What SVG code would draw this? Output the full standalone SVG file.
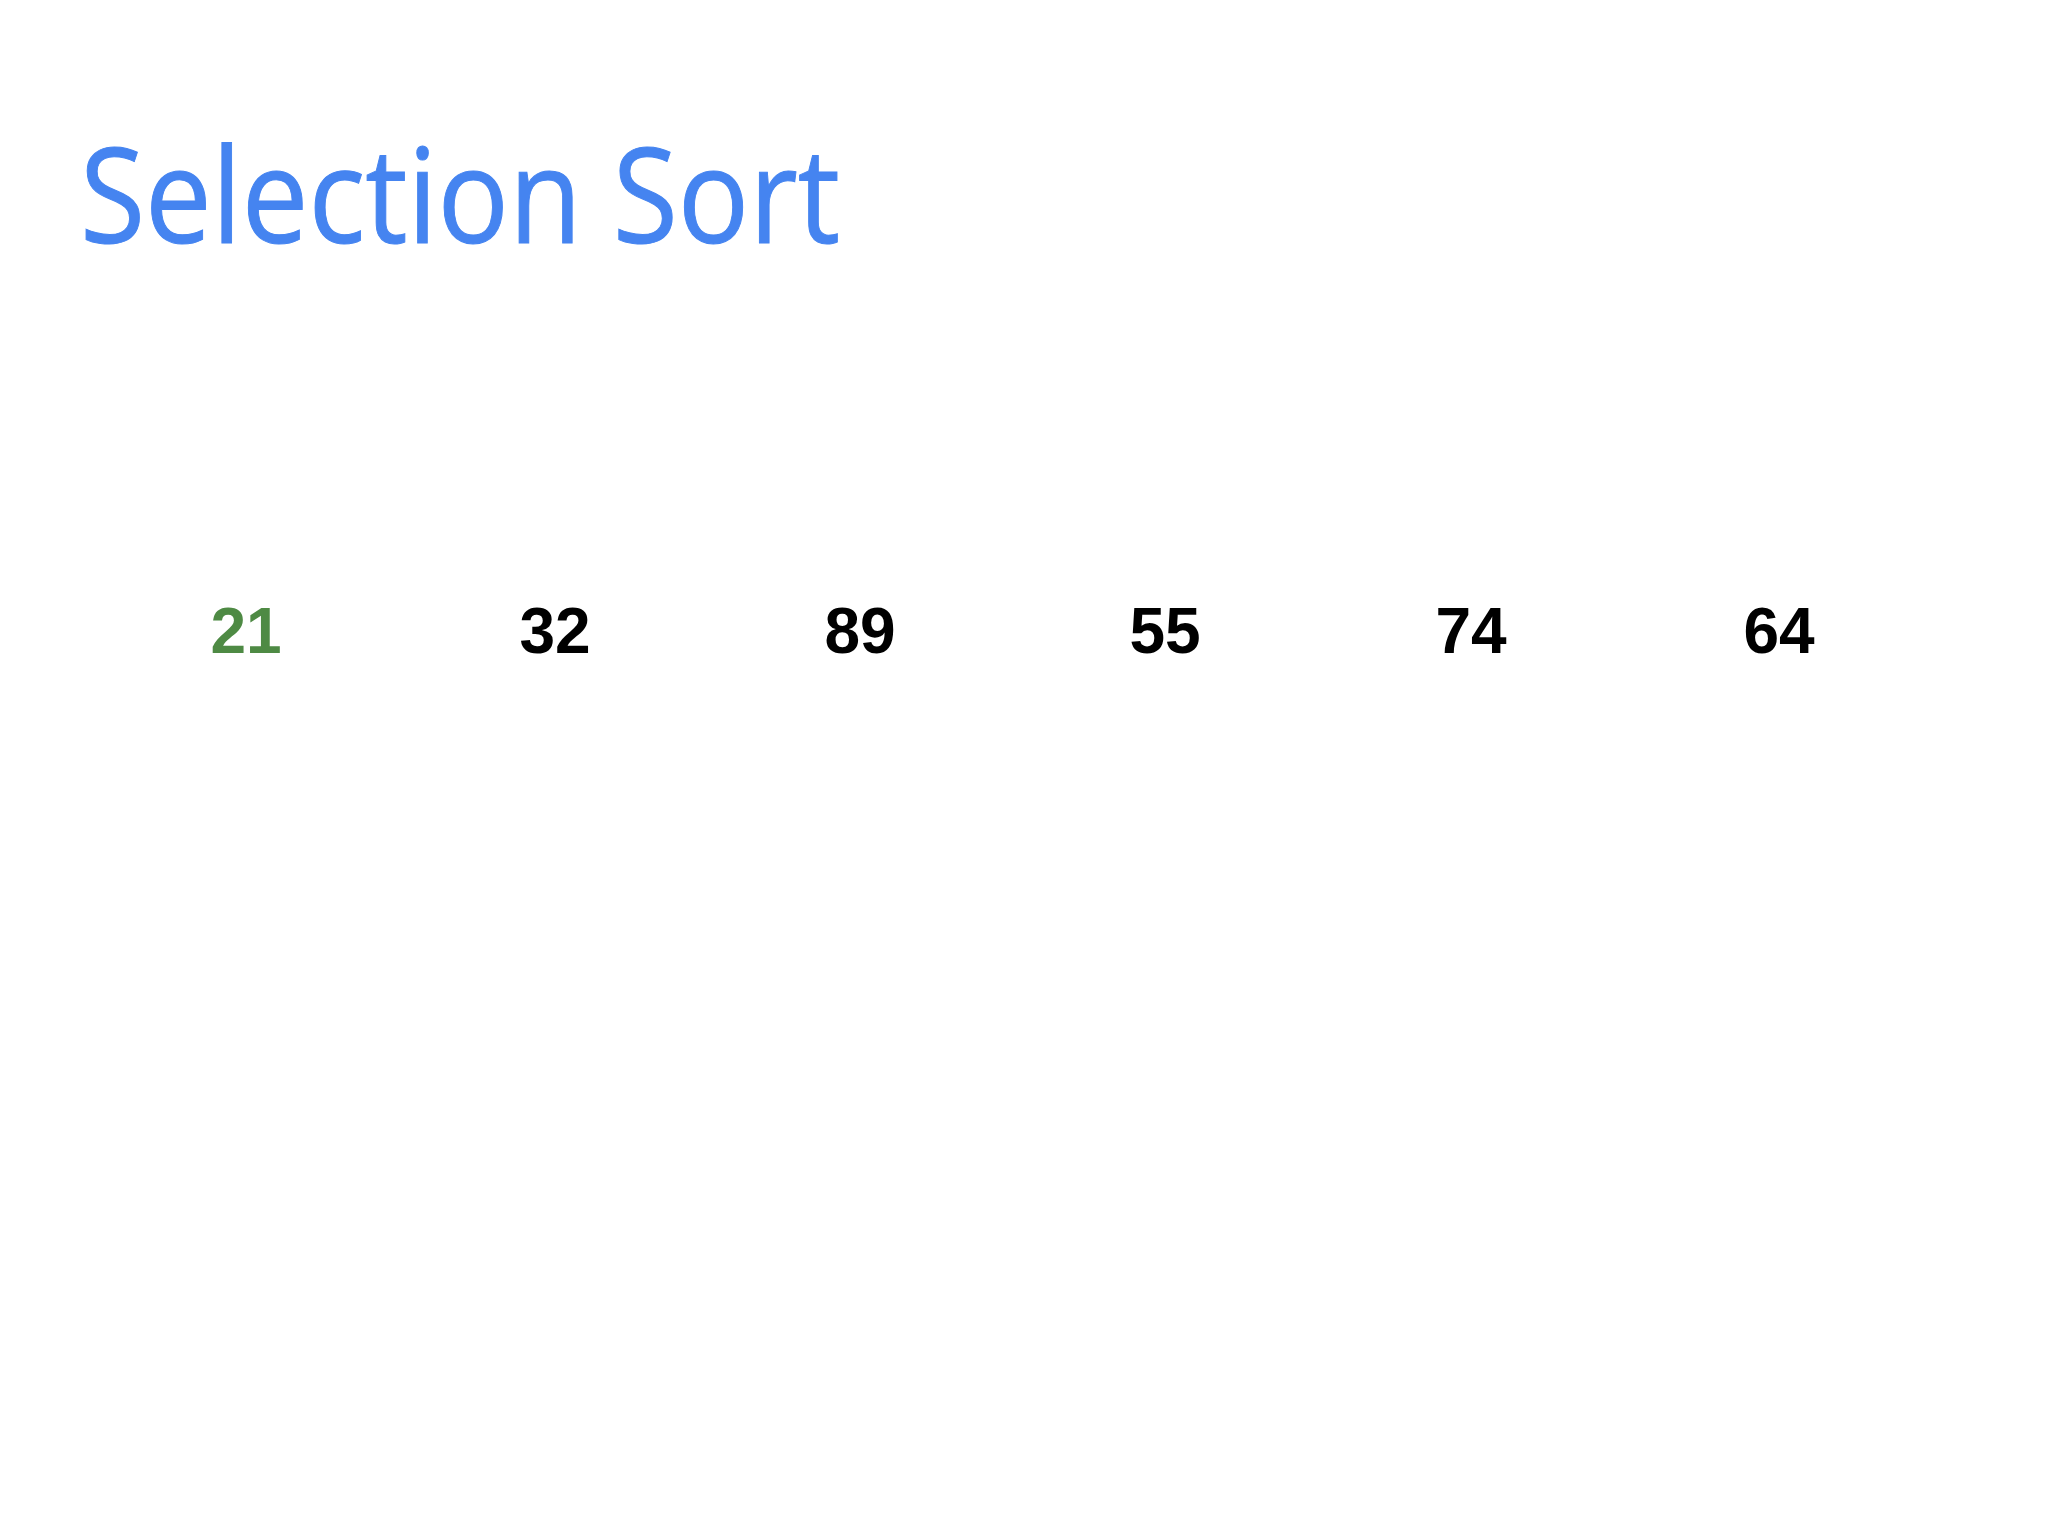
<svg xmlns="http://www.w3.org/2000/svg" width="2048" height="1536" viewBox="0 0 2048 1536">
<style>
.title{font-family:"Open Sans","Noto Sans",sans-serif;font-size:132px;fill:#4584F0;stroke:#4584F0;stroke-width:1px}
.num{font-family:"Liberation Sans",Arial,sans-serif;font-weight:bold;font-size:64px;fill:#000;text-anchor:middle}
.sorted{fill:#4E8A44}
</style>
<rect width="2048" height="1536" fill="#fff"/>
<text class="title" x="80" y="243" textLength="760" lengthAdjust="spacingAndGlyphs">Selection Sort</text>
<g id="n21"><text class="num sorted" x="246" y="653">21</text></g>
<g id="n32"><text class="num" x="555" y="653">32</text></g>
<g id="n89"><text class="num" x="860" y="653">89</text></g>
<g id="n55"><text class="num" x="1165" y="653">55</text></g>
<g id="n74"><text class="num" x="1471" y="653">74</text></g>
<g id="n64"><text class="num" x="1779" y="653">64</text></g>
<g id="connectors"></g>
</svg>
